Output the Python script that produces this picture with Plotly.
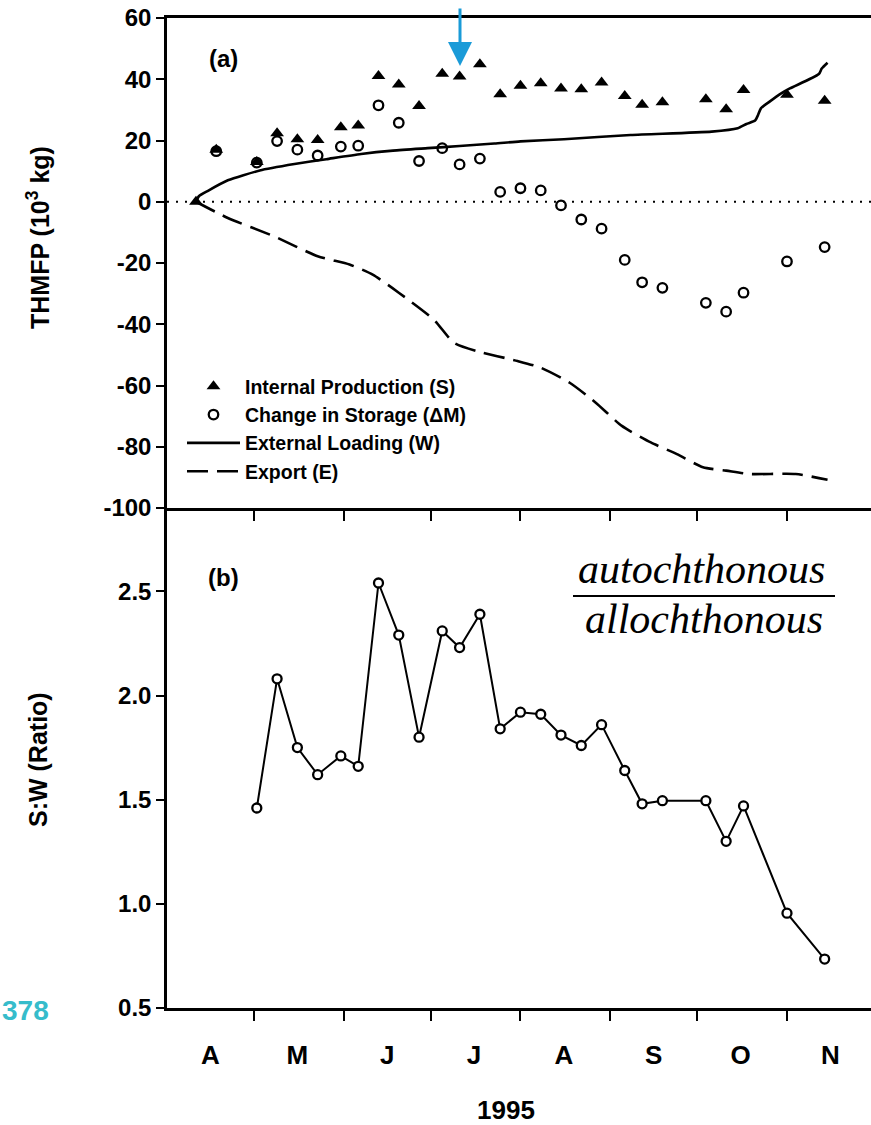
import plotly.graph_objects as go
from plotly.subplots import make_subplots

# ---------------- data ----------------
month_letters = ["A", "M", "J", "J", "A", "S", "O", "N"]
month_mid_dates = ["1995-04-16", "1995-05-16", "1995-06-16", "1995-07-16",
                   "1995-08-16", "1995-09-16", "1995-10-16", "1995-11-16"]
month_start_dates = ["1995-05-01", "1995-06-01", "1995-07-01", "1995-08-01",
                     "1995-09-01", "1995-10-01", "1995-11-01"]

thmfp_ticks = [-100, -80, -60, -40, -20, 0, 20, 40, 60]
thmfp_tick_labels = ["-100", "-80", "-60", "-40", "-20", "0", "20", "40", "60"]
ratio_ticks = [0.5, 1.0, 1.5, 2.0, 2.5]
ratio_tick_labels = ["0.5", "1.0", "1.5", "2.0", "2.5"]

sample_dates = ["1995-04-11", "1995-04-18", "1995-05-02", "1995-05-09", "1995-05-16",
                "1995-05-23", "1995-05-31", "1995-06-06", "1995-06-13", "1995-06-20",
                "1995-06-27", "1995-07-05", "1995-07-11", "1995-07-18", "1995-07-25",
                "1995-08-01", "1995-08-08", "1995-08-15", "1995-08-22", "1995-08-29",
                "1995-09-06", "1995-09-12", "1995-09-19", "1995-10-04", "1995-10-11",
                "1995-10-17", "1995-11-01", "1995-11-14"]

internal_production = [0, 17.0, 13.0, 22.4, 20.4, 20.2, 24.3, 24.9, 41.1, 38.3,
                       31.3, 41.8, 40.9, 44.9, 35.1, 37.9, 38.7, 37.0, 36.7, 38.9,
                       34.5, 31.7, 32.5, 33.5, 30.2, 36.5, 34.9, 33.0]

storage_change = [None, 16.5, 12.8, 19.8, 17.0, 15.1, 18.0, 18.3, 31.5, 25.8,
                  13.3, 17.5, 12.2, 14.1, 3.2, 4.4, 3.7, -1.2, -5.8, -8.8,
                  -19.0, -26.3, -28.1, -33.0, -35.9, -29.7, -19.5, -14.8]

ratio_dates = sample_dates[2:]
sw_ratio = [1.46, 2.08, 1.75, 1.62, 1.71, 1.66, 2.54, 2.29, 1.80, 2.31,
            2.23, 2.39, 1.84, 1.92, 1.91, 1.81, 1.76, 1.86, 1.64, 1.48,
            1.495, 1.495, 1.30, 1.47, 0.955, 0.735]

loading_dates = ["1995-04-11", "1995-04-12", "1995-04-15", "1995-04-22", "1995-05-03",
                 "1995-05-15", "1995-05-26", "1995-06-07", "1995-06-18", "1995-06-30",
                 "1995-07-11", "1995-07-23", "1995-08-01", "1995-08-16", "1995-09-08",
                 "1995-10-06", "1995-10-15", "1995-10-18", "1995-10-21", "1995-10-22",
                 "1995-10-23", "1995-10-26", "1995-10-30", "1995-11-02", "1995-11-12",
                 "1995-11-13", "1995-11-15"]
external_loading = [0, 1.8, 3.5, 7.0, 10.2, 12.3, 13.9, 15.6, 16.7, 17.5,
                    18.2, 19.0, 19.7, 20.4, 21.8, 22.9, 24.0, 25.4, 26.5, 28.3,
                    30.5, 32.7, 35.4, 37.0, 41.7, 43.5, 45.4]

export_dates = ["1995-04-11", "1995-04-22", "1995-05-08", "1995-05-23", "1995-06-03",
                "1995-06-11", "1995-06-20", "1995-07-02", "1995-07-09", "1995-07-17",
                "1995-07-31", "1995-08-08", "1995-08-18", "1995-08-27", "1995-09-05",
                "1995-09-15", "1995-09-24", "1995-10-03", "1995-10-11", "1995-10-19",
                "1995-11-04", "1995-11-15"]
export_vals = [0, -5.3, -11.3, -17.8, -20.5, -23.8, -29.7, -38.4, -46.0, -48.8,
               -52.0, -54.2, -59.1, -65.6, -73.2, -78.6, -82.4, -86.7, -87.8, -88.9,
               -88.9, -90.8]

# ---------------- figure ----------------
W, H = 871, 1125
ML, MR, MT, MB = 167, 0, 18, 117
PW, PH = W - ML - MR, H - MT - MB


def px_x(p):
    return (p - ML) / PW


def px_y(p):
    return (H - MB - p) / PH


SANS = "Liberation Sans, Arial, Helvetica, sans-serif"
SERIF = "Liberation Serif, Times New Roman, serif"

fig = make_subplots(rows=2, cols=1, shared_xaxes=True, vertical_spacing=0,
                    row_heights=[490, 500])

fig.add_trace(go.Scatter(x=loading_dates, y=external_loading, mode="lines",
                         name="External Loading (W)", legendrank=3,
                         line=dict(color="black", width=2.6, shape="spline", smoothing=0.6)),
              row=1, col=1)
fig.add_trace(go.Scatter(x=export_dates, y=export_vals, mode="lines",
                         name="Export (E)", legendrank=4,
                         line=dict(color="black", width=2.6, dash="21px,9px",
                                   shape="spline", smoothing=0.6)),
              row=1, col=1)
fig.add_trace(go.Scatter(x=sample_dates, y=internal_production, mode="markers",
                         name="Internal Production (S)", legendrank=1,
                         marker=dict(symbol="triangle-up", size=12, color="black")),
              row=1, col=1)
fig.add_trace(go.Scatter(x=sample_dates, y=storage_change, mode="markers",
                         name="Change in Storage (\u0394M)", legendrank=2,
                         marker=dict(symbol="circle-open", size=9.5, color="black",
                                     line=dict(width=2.3, color="black"))),
              row=1, col=1)
fig.add_trace(go.Scatter(x=ratio_dates, y=sw_ratio, mode="lines+markers",
                         showlegend=False,
                         line=dict(color="black", width=2),
                         marker=dict(symbol="circle", size=9, color="white",
                                     line=dict(width=2.3, color="black"))),
              row=2, col=1)

axis_common = dict(showgrid=False, zeroline=False, linecolor="black", linewidth=2.5,
                   tickcolor="black", tickwidth=2.2, ticks="outside", ticklen=8)

x_range = ["1995-04-01", "1995-11-30"]
minor_ticks = dict(tickvals=month_start_dates, ticks="outside", ticklen=10,
                   tickwidth=2, tickcolor="black")
fig.update_layout(
    xaxis=dict(**{**axis_common, "ticklen": 0}, range=x_range, showticklabels=False,
               mirror=True, tickvals=month_mid_dates, ticktext=month_letters,
               minor=minor_ticks),
    xaxis2=dict(**{**axis_common, "ticklen": 22, "tickcolor": "rgba(0,0,0,0)"},
                range=x_range, tickvals=month_mid_dates, ticktext=month_letters,
                tickfont=dict(family=SANS, size=26, color="black", weight="bold"),
                minor=minor_ticks),
    yaxis=dict(**axis_common, range=[-100, 60], tickvals=thmfp_ticks,
               ticktext=thmfp_tick_labels,
               tickfont=dict(family=SANS, size=24, color="black", weight="bold")),
    yaxis2=dict(**axis_common, range=[0.5, 2.9], tickvals=ratio_ticks,
                ticktext=ratio_tick_labels,
                tickfont=dict(family=SANS, size=24, color="black", weight="bold")),
)

fig.update_layout(
    width=W, height=H,
    margin=dict(l=ML, r=MR, t=MT, b=MB, pad=0),
    paper_bgcolor="white", plot_bgcolor="white",
    font=dict(family=SANS, color="black"),
    legend=dict(x=px_x(182), y=px_y(367), xanchor="left", yanchor="top",
                bgcolor="rgba(0,0,0,0)", itemwidth=53,
                font=dict(family=SANS, size=19.5, color="black", weight="bold"),
                tracegroupgap=0),
    showlegend=True,
)

# zero reference line (dotted)
fig.add_shape(type="line", xref="x domain", yref="y", x0=0, x1=1, y0=0, y1=0,
              line=dict(color="black", width=2, dash="2px,7px"), layer="below")

# fraction line
fig.add_shape(type="line", xref="paper", yref="paper",
              x0=px_x(573), x1=px_x(835), y0=px_y(596), y1=px_y(596),
              line=dict(color="black", width=2))

ann = []
ann.append(dict(text="(a)", x=px_x(223), y=px_y(58),
                font=dict(family=SANS, size=24, color="black", weight="bold")))
ann.append(dict(text="(b)", x=px_x(223), y=px_y(577),
                font=dict(family=SANS, size=24, color="black", weight="bold")))
ann.append(dict(text="autochthonous", x=px_x(701), y=px_y(569),
                font=dict(family=SERIF, size=42, color="black", style="italic")))
ann.append(dict(text="allochthonous", x=px_x(704), y=px_y(619),
                font=dict(family=SERIF, size=42, color="black", style="italic")))
ann.append(dict(text="THMFP (10<sup>3</sup> kg)", x=px_x(38), y=px_y(238), textangle=-90,
                font=dict(family=SANS, size=25, color="black", weight="bold")))
ann.append(dict(text="S:W (Ratio)", x=px_x(38), y=px_y(760), textangle=-90,
                font=dict(family=SANS, size=25, color="black", weight="bold")))
ann.append(dict(text="1995", x=px_x(506), y=px_y(1110),
                font=dict(family=SANS, size=26, color="black", weight="bold")))
ann.append(dict(text="378", x=px_x(51), y=px_y(1010), xanchor="right",
                font=dict(family=SANS, size=28, color="#36bccb", weight="bold")))
for a in ann:
    a.setdefault("xanchor", "center")
    a.update(xref="paper", yref="paper", yanchor="middle", showarrow=False)
    fig.add_annotation(**a)

# blue arrow
fig.add_annotation(x=px_x(460), y=px_y(66), xref="paper", yref="paper", text=" ",
                   showarrow=True, ax=0, ay=-72, arrowhead=2, arrowsize=1.6,
                   arrowwidth=3, arrowcolor="#1a9bd8")

fig.write_html("out.html")
